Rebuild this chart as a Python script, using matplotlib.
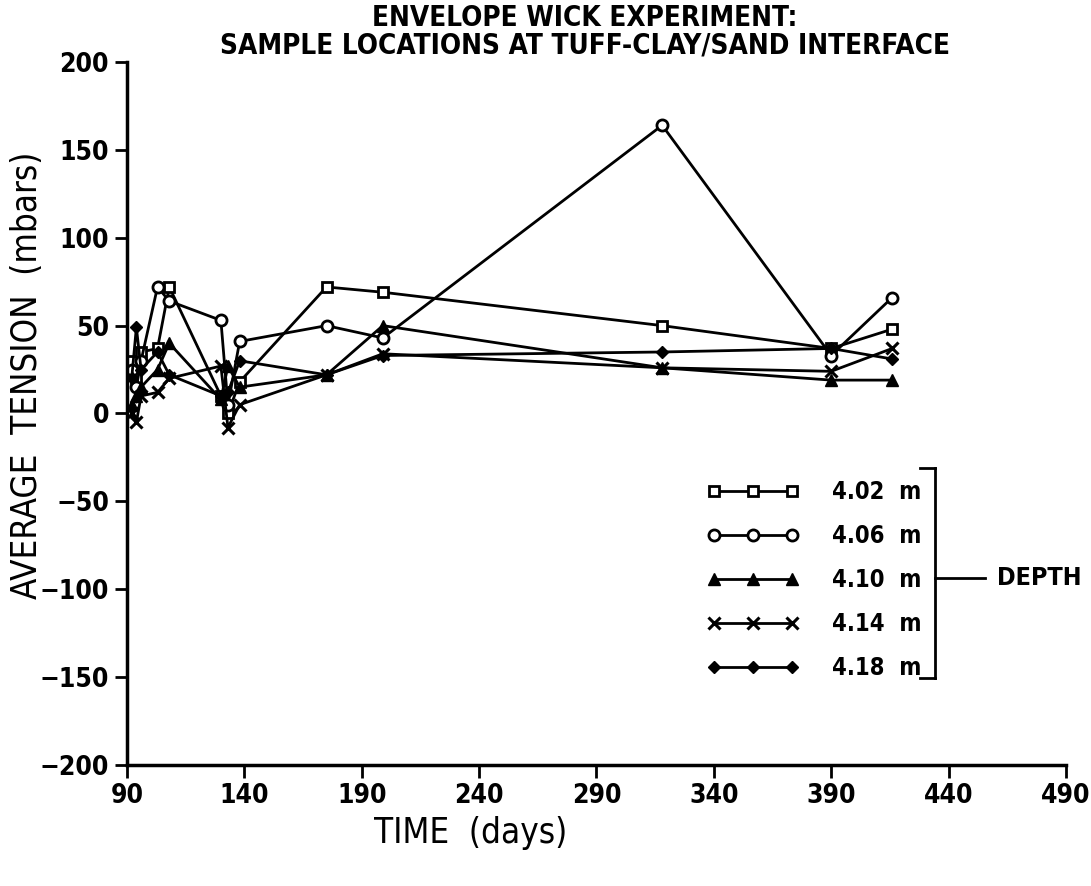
import matplotlib
matplotlib.use("Agg")
import matplotlib.pyplot as plt
from matplotlib.lines import Line2D

plt.rcParams['font.family'] = ['DejaVu Sans']
plt.rcParams['font.stretch'] = 'condensed'
plt.rcParams['font.weight'] = 'bold'

# sample days (same schedule for every depth)
days = [92, 94, 96, 103, 108, 130, 133, 138, 175, 199, 318, 390, 416]

# average tension (mbars)
tension_402 = [30, 20, 35, 37, 72, 10, 0, 18, 72, 69, 50, 37, 48]
tension_406 = [25, 15, 30, 72, 64, 53, 5, 41, 50, 43, 164, 33, 66]
tension_410 = [5, 10, 15, 25, 40, 8, 27, 15, 22, 50, 26, 19, 19]
tension_414 = [0, -5, 10, 12, 20, 27, -8, 5, 22, 34, 26, 24, 37]
tension_418 = [20, 49, 25, 35, 22, 10, 12, 30, 22, 33, 35, 37, 31]

depth_labels = ["4.02  m", "4.06  m", "4.10  m", "4.14  m", "4.18  m"]
x_ticks = [90, 140, 190, 240, 290, 340, 390, 440, 490]
y_ticks = [-200, -150, -100, -50, 0, 50, 100, 150, 200]

fig = plt.figure(figsize=(10.91, 8.86), dpi=100)
ax = fig.add_axes([0.1164, 0.1366, 0.8606, 0.7934])

series = [tension_402, tension_406, tension_410, tension_414, tension_418]
styles = [
    dict(marker='s', mfc='white', ms=7, mew=2),
    dict(marker='o', mfc='white', ms=8, mew=2),
    dict(marker='^', mfc='black', ms=8, mew=1),
    dict(marker='x', mfc='black', ms=8, mew=2.2),
    dict(marker='D', mfc='black', ms=6, mew=1),
]
for vals, lab, st in zip(series, depth_labels, styles):
    ax.plot(days, vals, color='black', lw=2, mec='black', label=lab, **st)

ax.set_xlim(90, 490)
ax.set_ylim(-200, 200)
ax.set_xticks(x_ticks)
ax.set_yticks(y_ticks)
ax.set_yticklabels([str(t).replace('-', '\u2212') for t in y_ticks])
ax.tick_params(direction='out', length=9, width=2, labelsize=19, pad=4)
for s in ['top', 'right']:
    ax.spines[s].set_visible(False)
for s in ['left', 'bottom']:
    ax.spines[s].set_linewidth(2.5)

ax.set_xlabel("TIME  (days)", fontsize=25)
ax.xaxis.set_label_coords(0.366, -0.073)
ax.set_ylabel("AVERAGE  TENSION  (mbars)", fontsize=25)
ax.yaxis.set_label_coords(-0.088, 0.555)

fig.text(0.536, 0.980, "ENVELOPE WICK EXPERIMENT:", ha='center', va='center', fontsize=20)
fig.text(0.536, 0.949, "SAMPLE LOCATIONS AT TUFF-CLAY/SAND INTERFACE",
         ha='center', va='center', fontsize=20)

leg = ax.legend(loc='upper left', bbox_to_anchor=(0.605, 0.422), numpoints=3,
                handlelength=3.9, frameon=False, fontsize=17, labelspacing=0.85,
                handletextpad=1.4, borderpad=0)

# bracket and DEPTH label
tr = fig.transFigure
W, H = 1091, 886
def px(x, y):
    return x / W, 1 - y / H
for (x0, y0), (x1, y1) in [((920, 468), (935, 468)), ((935, 468), (935, 678)),
                           ((920, 678), (935, 678)), ((935, 578), (985, 578))]:
    a, b = px(x0, y0)
    c, d = px(x1, y1)
    fig.add_artist(Line2D([a, c], [b, d], transform=tr, color='black', lw=2))
fig.text(*px(997, 578), "DEPTH", ha='left', va='center', fontsize=18)

fig.savefig("out.png", dpi=100)
